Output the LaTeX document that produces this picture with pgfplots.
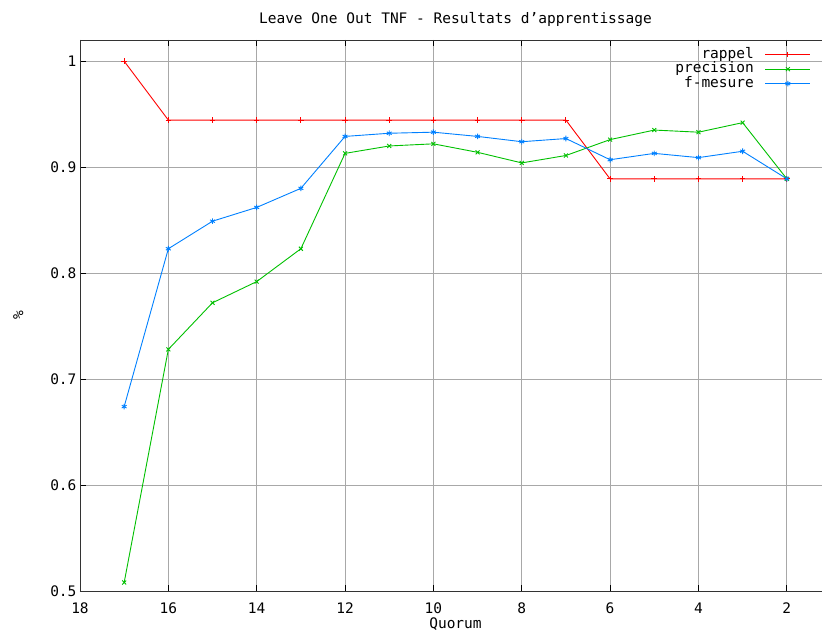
\documentclass[border=0pt]{standalone}
\usepackage{fontspec}
\setmainfont{DejaVu Sans Mono}
\usepackage{pgfplots}
\pgfplotsset{compat=1.18}
\definecolor{gred}{HTML}{FF0000}
\definecolor{ggreen}{HTML}{00C000}
\definecolor{gblue}{HTML}{0080FF}
\definecolor{ggrid}{HTML}{A8A8A8}
\begin{document}
\begin{tikzpicture}
\begin{axis}[
  at={(0pt,0pt)}, anchor=south west,
  scale only axis, width=751pt, height=551pt,
  x dir=reverse, xmin=1, xmax=18, ymin=0.5, ymax=1.02,
  xtick={2,4,6,8,10,12,14,16,18},
  ytick={0.5,0.6,0.7,0.8,0.9,1},
  /pgf/number format/assume math mode=true,
  tick label style={font=\fontsize{14.5}{15}\selectfont},
  yticklabel style={xshift=0pt},
  xticklabel style={yshift=-8pt},
  tick align=inside, major tick length=6pt,
  tick style={black, line width=0.8pt},
  axis line style={draw=black!80, line width=0.9pt},
  grid=major, major grid style={ggrid, line width=0.9pt},
  title={Leave One Out TNF - Resultats d'apprentissage},
  title style={font=\fontsize{14.5}{15}\selectfont, yshift=4pt},
  xlabel={Quorum}, ylabel={\%},
  xlabel style={font=\fontsize{14.5}{15}\selectfont, yshift=3pt},
  ylabel style={font=\fontsize{14.5}{15}\selectfont, yshift=20pt},
  legend plot pos=right,
  legend cell align=right,
  legend style={draw=none, fill=none, at={(axis description cs:1,1)}, anchor=north east,
    xshift=-17pt, yshift=-6pt, column sep=10pt,
    font=\fontsize{14.5}{15}\selectfont, row sep=1.5pt,
    nodes={inner sep=1pt, text height=9pt, text depth=2pt}},
  legend image code/.code={\draw[mark repeat=2,mark phase=2,#1] plot coordinates {(0pt,0pt) (22.5pt,0pt) (45pt,0pt)};},
  every axis plot/.append style={line width=0.9pt, mark size=2.8pt},
]
\addplot[gred, mark=+] coordinates {
(17,1.0) (16,0.9444) (15,0.9444) (14,0.9444) (13,0.9444) (12,0.9444) (11,0.9444)
(10,0.9444) (9,0.9444) (8,0.9444) (7,0.9444) (6,0.8889) (5,0.8889) (4,0.8889)
(3,0.8889) (2,0.8889)};
\addlegendentry{rappel}
\addplot[ggreen, mark=x] coordinates {
(17,0.508) (16,0.728) (15,0.772) (14,0.792) (13,0.823) (12,0.913) (11,0.920)
(10,0.922) (9,0.914) (8,0.904) (7,0.911) (6,0.926) (5,0.935) (4,0.933)
(3,0.942) (2,0.889)};
\addlegendentry{precision}
\addplot[gblue, mark=asterisk] coordinates {
(17,0.674) (16,0.823) (15,0.849) (14,0.862) (13,0.880) (12,0.929) (11,0.932)
(10,0.933) (9,0.929) (8,0.924) (7,0.927) (6,0.907) (5,0.913) (4,0.909)
(3,0.915) (2,0.889)};
\addlegendentry{f-mesure}
\end{axis}
\pgfresetboundingbox
\useasboundingbox (-80pt,-48pt) rectangle (742pt,591pt);
\end{tikzpicture}
\end{document}
